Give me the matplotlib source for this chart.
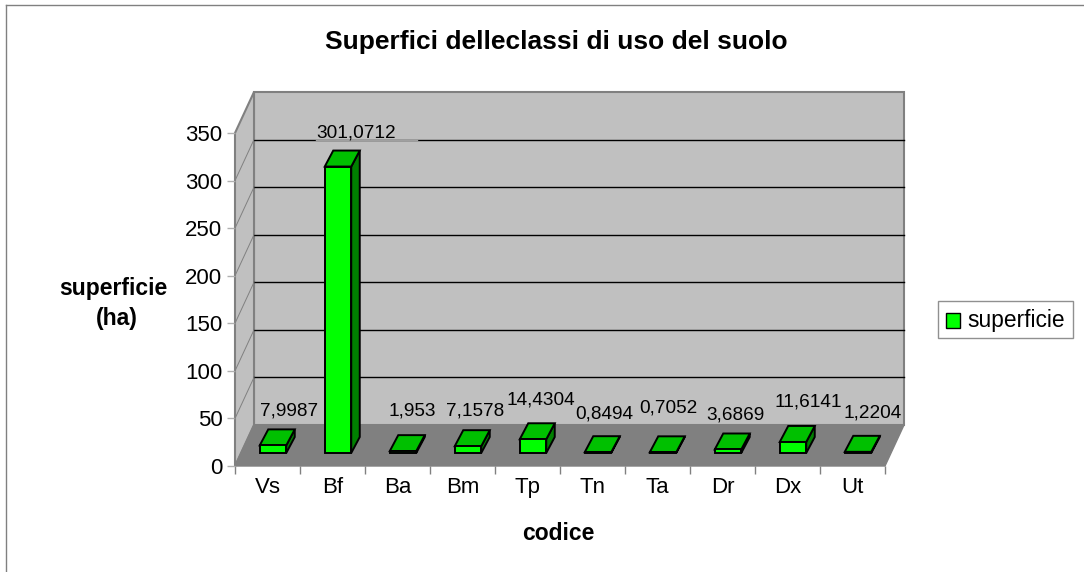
#!/usr/bin/env python3
import matplotlib
matplotlib.use('Agg')
import matplotlib.pyplot as plt
from matplotlib.patches import Polygon, Rectangle
from matplotlib.lines import Line2D

plt.rcParams['font.family'] = ['Liberation Sans', 'DejaVu Sans']

CODES = ['Vs', 'Bf', 'Ba', 'Bm', 'Tp', 'Tn', 'Ta', 'Dr', 'Dx', 'Ut']
AREAS = [7.9987, 301.0712, 1.953, 7.1578, 14.4304, 0.8494, 0.7052, 3.6869, 11.6141, 1.2204]
LABELS = ['7,9987', '301,0712', '1,953', '7,1578', '14,4304',
          '0,8494', '0,7052', '3,6869', '11,6141', '1,2204']
Y_TICKS = [0, 50, 100, 150, 200, 250, 300, 350]

W, H = 1084, 572
# front plane of the fake 3d box, in pixels
LEFT, RIGHT, BOTTOM, TOP = 235, 885, 466, 133
PX_X = (RIGHT - LEFT) / len(CODES)
PX_Y = (BOTTOM - TOP) / 350
# depth of the box
DX, DY = 19 / PX_X, 41 / PX_Y
# bars sit this far into the box, and are this deep
BAR_W = 26.5 / PX_X
BAR_X0 = 5.5 / PX_X
BAR_Y0 = 13 / PX_Y
BAR_DX, BAR_DY = 8.5 / PX_X, 16 / PX_Y

GREEN, GREEN_TOP, GREEN_SIDE = '#00ff00', '#00c000', '#008000'
WALL, FLOOR, EDGE = '#c0c0c0', '#808080', '#808080'

# label centres relative to the bar slot, in pixels
LABEL_DX = [22, 23.5, 15, 13, 13, 12, 11, 13, 21, 20]
LABEL_DY = [18, 18, 24, 19, 23, 22, 28, 18, 24, 23]


fig = plt.figure(figsize=(W / 100, H / 100), dpi=100, facecolor='white')
ax = fig.add_axes([LEFT / W, 1 - BOTTOM / H, (RIGHT - LEFT) / W, (BOTTOM - TOP) / H])
ax.set_xlim(0, len(CODES))
ax.set_ylim(0, 350)
ax.patch.set_visible(False)
for spine in ax.spines.values():
    spine.set_visible(False)

# chart area border, only left and top edges show in the picture
fig.add_artist(Line2D([6.2 / W, 6.2 / W], [0, 1 - 4.5 / H], color='#808080', lw=1))
fig.add_artist(Line2D([6.2 / W, 1], [1 - 4.5 / H, 1 - 4.5 / H], color='#808080', lw=1))

n = len(CODES)
ymax = 350


def add_poly(points, face, edge=EDGE, lw=1.0, z=1):
    ax.add_patch(Polygon(points, closed=True, facecolor=face, edgecolor=edge,
                         linewidth=lw, clip_on=False, zorder=z, joinstyle='miter'))


# walls and floor
add_poly([(DX, DY), (n + DX, DY), (n + DX, ymax + DY), (DX, ymax + DY)], WALL, lw=1.5)
add_poly([(0, 0), (DX, DY), (DX, ymax + DY), (0, ymax)], WALL, lw=1.5)
add_poly([(0, 0), (n, 0), (n + DX, DY), (DX, DY)], FLOOR, edge=FLOOR)

# gridlines on the back wall, plus the slanted part on the side wall
for t in Y_TICKS[1:-1]:
    ax.plot([DX, n + DX], [t + DY, t + DY], color='black', lw=1, clip_on=False, zorder=2)
    ax.plot([0, DX], [t, t + DY], color='#808080', lw=0.7, clip_on=False, zorder=2)

# the Bf label box greys out a piece of the 300 gridline
ax.plot([(316 - LEFT) / PX_X, (417 - LEFT) / PX_X], [300 + DY, 300 + DY],
        color='#a0a0a0', lw=1, clip_on=False, zorder=3)

# bars
for i, value in enumerate(AREAS):
    x0 = i + (1 - BAR_W) / 2 + BAR_X0
    x1 = x0 + BAR_W
    y0 = BAR_Y0
    y1 = y0 + value
    add_poly([(x1, y0), (x1 + BAR_DX, y0 + BAR_DY), (x1 + BAR_DX, y1 + BAR_DY), (x1, y1)],
             GREEN_SIDE, edge='black', lw=1.4, z=5)
    add_poly([(x0, y1), (x1, y1), (x1 + BAR_DX, y1 + BAR_DY), (x0 + BAR_DX, y1 + BAR_DY)],
             GREEN_TOP, edge='black', lw=1.4, z=5)
    add_poly([(x0, y0), (x1, y0), (x1, y1), (x0, y1)], GREEN, edge='black', lw=1.4, z=5)

    ax.text(i + 0.5 + LABEL_DX[i] / PX_X, y1 + BAR_DY + LABEL_DY[i] / PX_Y, LABELS[i],
            ha='center', va='center', fontsize=13.7, color='black', zorder=6)

ax.set_xticks(range(n + 1))
ax.set_xticklabels([])
ax.set_xticks([i + 0.5 for i in range(n)], minor=True)
ax.set_xticklabels(CODES, minor=True, fontsize=16)
ax.set_yticks(Y_TICKS)
ax.set_yticklabels([str(t) for t in Y_TICKS], fontsize=16)
ax.tick_params(axis='x', which='major', length=6, color='#808080', width=1)
ax.tick_params(axis='x', which='minor', length=0, pad=8)
ax.tick_params(axis='y', length=6, color='#b0b0b0', width=1, pad=3)

fig.text(556 / W, 1 - 42 / H, 'Superfici delleclassi di uso del suolo',
         ha='center', va='center', fontsize=19, fontweight='bold')
fig.text(558 / W, 1 - 533.5 / H, 'codice', ha='center', va='center', fontsize=16.5, fontweight='bold')
fig.text(113 / W, 1 - 289 / H, 'superficie', ha='center', va='center', fontsize=16.5, fontweight='bold')
fig.text(117 / W, 1 - 318 / H, '(ha)', ha='center', va='center', fontsize=16.5, fontweight='bold')

# legend
fig.add_artist(Rectangle((938 / W, 1 - 338 / H), 135 / W, 37 / H, transform=fig.transFigure,
                         facecolor='white', edgecolor='#909090', lw=1))
fig.add_artist(Rectangle((946 / W, 1 - 328 / H), 14 / W, 15 / H, transform=fig.transFigure,
                         facecolor=GREEN, edgecolor='black', lw=1))
fig.text(967 / W, 1 - 320 / H, 'superficie', ha='left', va='center', fontsize=16.4)

fig.savefig('out.png', dpi=100)
